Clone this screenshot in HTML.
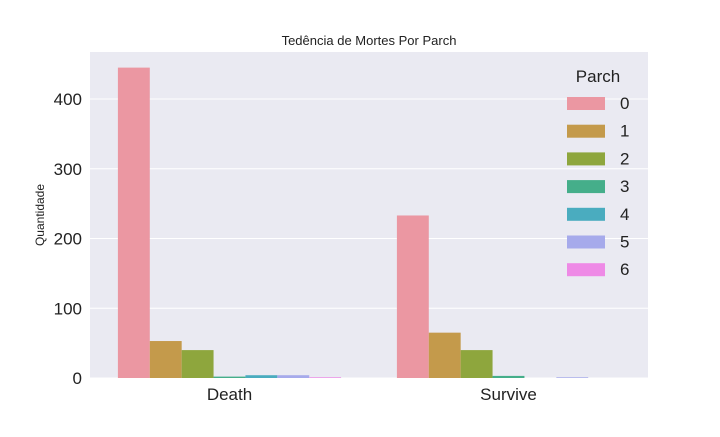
<!DOCTYPE html>
<html><head><meta charset="utf-8"><style>
body{margin:0;background:#fff;font-family:"Liberation Sans","DejaVu Sans",sans-serif;}
</style></head><body>
<svg width="720" height="432" xmlns="http://www.w3.org/2000/svg" id="svg" font-family="Liberation Sans, DejaVu Sans, sans-serif">
<rect x="90" y="52" width="558" height="326" fill="#eaeaf2"/>
<g id="grid"></g><g id="bars"></g><g id="ticks"></g>
<text x="369" y="45" text-anchor="middle" font-size="13" fill="#222">Tedência de Mortes Por Parch</text>
<text transform="translate(44,215) rotate(-90)" text-anchor="middle" font-size="12" fill="#222">Quantidade</text>
<g id="legend"></g>
</svg>
<script>
const categories=["Death","Survive"];
const seriesNames=["0","1","2","3","4","5","6"];
const deathValues=[445,53,40,2,4,4,1];
const surviveValues=[233,65,40,3,0,1,0];
const yTicks=[0,100,200,300,400];
const colors=["#eb97a2","#c49a4b","#8ea63d","#45ae8a","#4aacbf","#a6aaeb","#ee8ae6"];
const NS="http://www.w3.org/2000/svg";
const X0=90,X1=648,Y0=378,PX=0.6975;
const y=v=>Y0-v*PX;
const band=(X1-X0)/categories.length;
function mk(t,a,p){const e=document.createElementNS(NS,t);for(const k in a)e.setAttribute(k,a[k]);p.appendChild(e);return e;}
const grid=document.getElementById('grid'),ticks=document.getElementById('ticks'),bars=document.getElementById('bars'),leg=document.getElementById('legend');
yTicks.forEach(t=>{
 const l=mk('line',{x1:X0,x2:X1,y1:y(t),y2:y(t),stroke:'#fff','stroke-width':1},grid);
 
 
 const tx=mk('text',{x:X0-8,y:y(t)+6,'text-anchor':'end','font-size':17,fill:'#222'},ticks);
 tx.textContent=t;
 
 
});
const data=[deathValues,surviveValues];
const bw=band*0.8/seriesNames.length;
categories.forEach((c,ci)=>{
 const start=X0+band*ci+band*0.1;
 seriesNames.forEach((s,si)=>{
  const v=data[ci][si];
  const r=mk('rect',{x:start+si*bw,y:y(v),width:bw,height:v*PX,fill:colors[si]},bars);
  
  
 });
 const tx=mk('text',{x:X0+band*(ci+0.5),y:400,'text-anchor':'middle','font-size':17,fill:'#222'},ticks);
 tx.textContent=c;
 
 
});
const lt=mk('text',{x:598,y:82,'text-anchor':'middle','font-size':17,fill:'#222'},leg);
lt.textContent='Parch';


seriesNames.forEach((s,i)=>{
 const yy=103+i*27.7;
 const r=mk('rect',{x:567,y:yy-6,width:38,height:13,fill:colors[i]},leg);
 
 
 const t=mk('text',{x:620,y:yy+6,'font-size':17,fill:'#222'},leg);
 t.textContent=s;
 
 
});
</script>
</body></html>
